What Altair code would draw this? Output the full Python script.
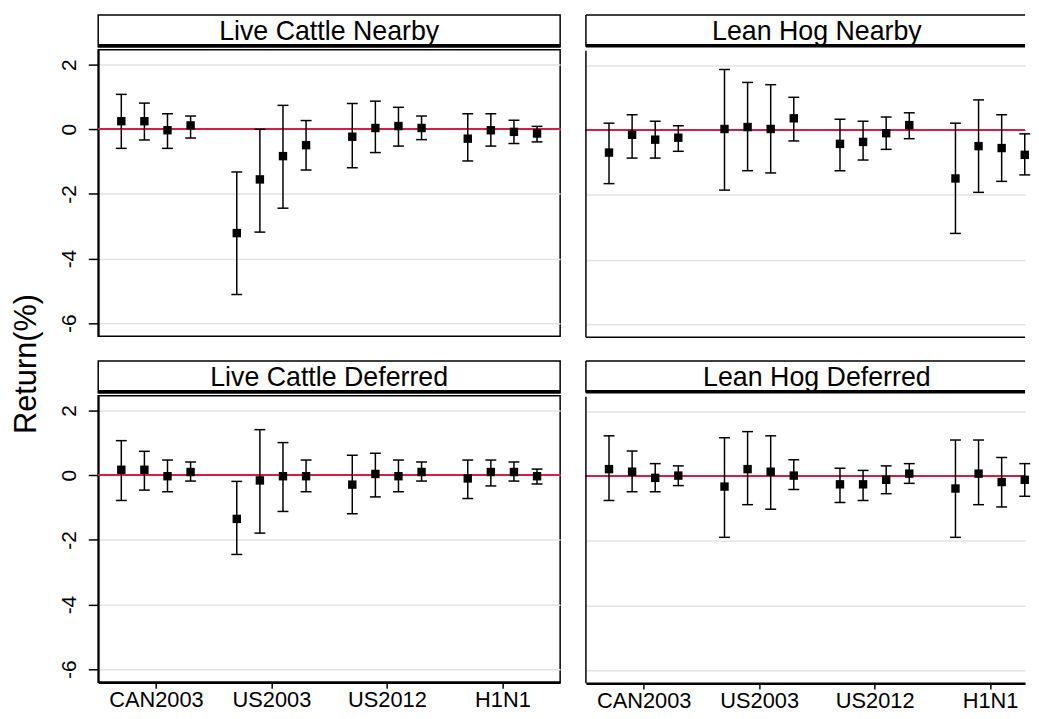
import altair as alt
import pandas as pd

events = ["CAN2003", "US2003", "US2012", "H1N1"]
event_ticks = [2.5, 7.5, 12.5, 17.5]
positions = [1, 2, 3, 4, 6, 7, 8, 9, 11, 12, 13, 14, 16, 17, 18, 19]
panel_names = ["Live Cattle Nearby", "Lean Hog Nearby", "Live Cattle Deferred", "Lean Hog Deferred"]

# Live Cattle Nearby
lcn_est = [0.25, 0.25, -0.03, 0.12, -3.21, -1.55, -0.83, -0.49, -0.23, 0.04, 0.10, 0.04, -0.29, -0.03, -0.08, -0.13]
lcn_hi = [1.08, 0.81, 0.48, 0.41, -1.32, 0.00, 0.74, 0.27, 0.80, 0.87, 0.68, 0.41, 0.48, 0.48, 0.28, 0.09]
lcn_lo = [-0.59, -0.33, -0.59, -0.27, -5.11, -3.18, -2.44, -1.26, -1.19, -0.72, -0.52, -0.32, -0.98, -0.52, -0.44, -0.39]
# Lean Hog Nearby
lhn_est = [-0.69, -0.14, -0.29, -0.23, 0.04, 0.10, 0.04, 0.37, -0.42, -0.36, -0.09, 0.16, -1.49, -0.49, -0.55, -0.76]
lhn_hi = [0.22, 0.48, 0.28, 0.14, 1.88, 1.48, 1.41, 1.02, 0.34, 0.28, 0.41, 0.54, 0.22, 0.94, 0.48, -0.11]
lhn_lo = [-1.65, -0.86, -0.86, -0.65, -1.85, -1.25, -1.32, -0.33, -1.25, -0.92, -0.59, -0.26, -3.19, -1.92, -1.58, -1.38]
# Live Cattle Deferred
lcd_est = [0.17, 0.17, -0.03, 0.10, -1.35, -0.16, -0.03, -0.03, -0.29, 0.04, -0.03, 0.10, -0.10, 0.10, 0.10, -0.03]
lcd_hi = [1.07, 0.74, 0.47, 0.41, -0.19, 1.41, 1.01, 0.47, 0.62, 0.68, 0.47, 0.41, 0.47, 0.47, 0.41, 0.19]
lcd_lo = [-0.78, -0.46, -0.51, -0.18, -2.45, -1.79, -1.12, -0.51, -1.19, -0.67, -0.51, -0.18, -0.72, -0.33, -0.18, -0.27]
# Lean Hog Deferred
lhd_est = [0.22, 0.14, -0.05, 0.02, -0.32, 0.22, 0.14, 0.02, -0.25, -0.25, -0.11, 0.08, -0.38, 0.08, -0.18, -0.11]
lhd_hi = [1.25, 0.78, 0.39, 0.32, 1.19, 1.38, 1.25, 0.51, 0.25, 0.18, 0.32, 0.39, 1.12, 1.12, 0.58, 0.39]
lhd_lo = [-0.75, -0.48, -0.48, -0.29, -1.89, -0.88, -1.02, -0.41, -0.81, -0.75, -0.54, -0.22, -1.89, -0.88, -0.95, -0.62]

y_ticks = [-6, -4, -2, 0, 2]

W = 466          # full panel width (left column)
W2 = 443         # visible part of right column (cut at page edge)
PH = 289
SH = 32
FONT = "Liberation Sans"
RED = "#D41F4B"
one = pd.DataFrame({"k": [0]})

label_expr = " : ".join(
    f"datum.value == {t} ? '{e}'" for t, e in zip(event_ticks[:-1], events[:-1])
) + f" : '{events[-1]}'"


def strip(name, w, open_right):
    txt = alt.Chart(pd.DataFrame({"t": [name]})).mark_text(
        font=FONT, fontSize=27, color="black", baseline="middle", align="center"
    ).encode(text="t:N", x=alt.value(W / 2), y=alt.value(SH / 2 + 1))
    line = alt.Chart(one).mark_rule(color="black", strokeWidth=3.5).encode(
        x=alt.value(0), x2=alt.value(w), y=alt.value(SH - 1))
    layers = [txt, line]
    props = dict(width=w, height=SH)
    if open_right:
        layers.append(alt.Chart(one).mark_rule(color="black", strokeWidth=1.5).encode(
            x=alt.value(0), x2=alt.value(w), y=alt.value(0)))
        layers.append(alt.Chart(one).mark_rule(color="black", strokeWidth=1.5).encode(
            x=alt.value(0), y=alt.value(0), y2=alt.value(SH)))
        props["view"] = alt.ViewBackground(stroke="transparent")
    return alt.layer(*layers).properties(**props)


def plot(est, hi, lo, show_y, show_x, w, open_right):
    df = pd.DataFrame({"pos": positions, "est": est, "hi": hi, "lo": lo})
    xscale = alt.Scale(domain=[0, 20 * w / W], nice=False, zero=False)
    yscale = alt.Scale(domain=[-6.4, 2.46], nice=False, zero=False)
    if show_x:
        xaxis = alt.Axis(values=event_ticks, labelExpr=label_expr, title=None, grid=False,
                         labelFont=FONT, labelFontSize=22, labelColor="black",
                         tickColor="black", tickSize=6, tickWidth=1.5,
                         domainColor="black", domainWidth=2.5, labelPadding=2)
    else:
        xaxis = None
    if show_y:
        yaxis = alt.Axis(values=y_ticks, title=None, grid=True, gridColor="#E3E3E3", gridWidth=1.5,
                         labelAngle=270, labelAlign="center", labelBaseline="bottom",
                         labelExpr="'' + datum.value",
                         labelFont=FONT, labelFontSize=21, labelColor="black", labelPadding=9,
                         tickColor="black", tickSize=10, tickWidth=1.5,
                         domainColor="black", domainWidth=2)
    else:
        yaxis = alt.Axis(values=y_ticks, title=None, grid=True, gridColor="#E3E3E3", gridWidth=1.5,
                         labels=False, ticks=False, domain=False)
    base = alt.Chart(df)
    x = alt.X("pos:Q", scale=xscale, axis=xaxis)
    bars = base.mark_rule(color="black", strokeWidth=1.5).encode(
        x=x, y=alt.Y("lo:Q", scale=yscale, axis=yaxis), y2="hi:Q")
    zero = base.mark_rule(color=RED, strokeWidth=1.6).encode(y=alt.datum(0))
    cap_hi = base.mark_tick(orient="horizontal", size=11, thickness=1.5, color="black", opacity=1).encode(
        x=x, y="hi:Q")
    cap_lo = base.mark_tick(orient="horizontal", size=11, thickness=1.5, color="black", opacity=1).encode(
        x=x, y="lo:Q")
    pts = base.mark_square(size=72, color="black", opacity=1, filled=True).encode(x=x, y="est:Q")
    layers = [zero, bars, cap_hi, cap_lo, pts]
    props = dict(width=w, height=PH)
    if open_right:
        layers.append(alt.Chart(one).mark_rule(color="black", strokeWidth=1.5).encode(
            x=alt.value(0), y=alt.value(0), y2=alt.value(PH)))
        if not show_x:
            layers.append(alt.Chart(one).mark_rule(color="black", strokeWidth=1.5).encode(
                x=alt.value(0), x2=alt.value(w), y=alt.value(PH)))
        props["view"] = alt.ViewBackground(stroke="transparent")
    return alt.layer(*layers).properties(**props)


def panel(name, est, hi, lo, show_y, show_x, right):
    w = W2 if right else W
    return alt.vconcat(strip(name, w, right), plot(est, hi, lo, show_y, show_x, w, right), spacing=0)


top = alt.hconcat(
    panel(panel_names[0], lcn_est, lcn_hi, lcn_lo, True, False, False),
    panel(panel_names[1], lhn_est, lhn_hi, lhn_lo, False, False, True),
    spacing=20,
)
bottom = alt.hconcat(
    panel(panel_names[2], lcd_est, lcd_hi, lcd_lo, True, True, False),
    panel(panel_names[3], lhd_est, lhd_hi, lhd_lo, False, True, True),
    spacing=20,
)
grid = alt.vconcat(top, bottom, spacing=20)

total_h = 2 * (SH + PH) + 20
ytitle = alt.Chart(pd.DataFrame({"t": ["Return(%)"]})).mark_text(
    font=FONT, fontSize=31, color="black", angle=270, align="center", baseline="middle"
).encode(text="t:N", x=alt.value(18), y=alt.value(352)).properties(
    width=32, height=total_h, view=alt.ViewBackground(stroke="transparent"))

chart = alt.hconcat(ytitle, grid, spacing=15).properties(
    padding={"left": 0, "top": 2, "right": 0, "bottom": 0},
    background="white",
).configure_view(stroke="black", strokeWidth=1.5)

chart.save("out.html", embed_options={"renderer": "svg", "actions": False})
